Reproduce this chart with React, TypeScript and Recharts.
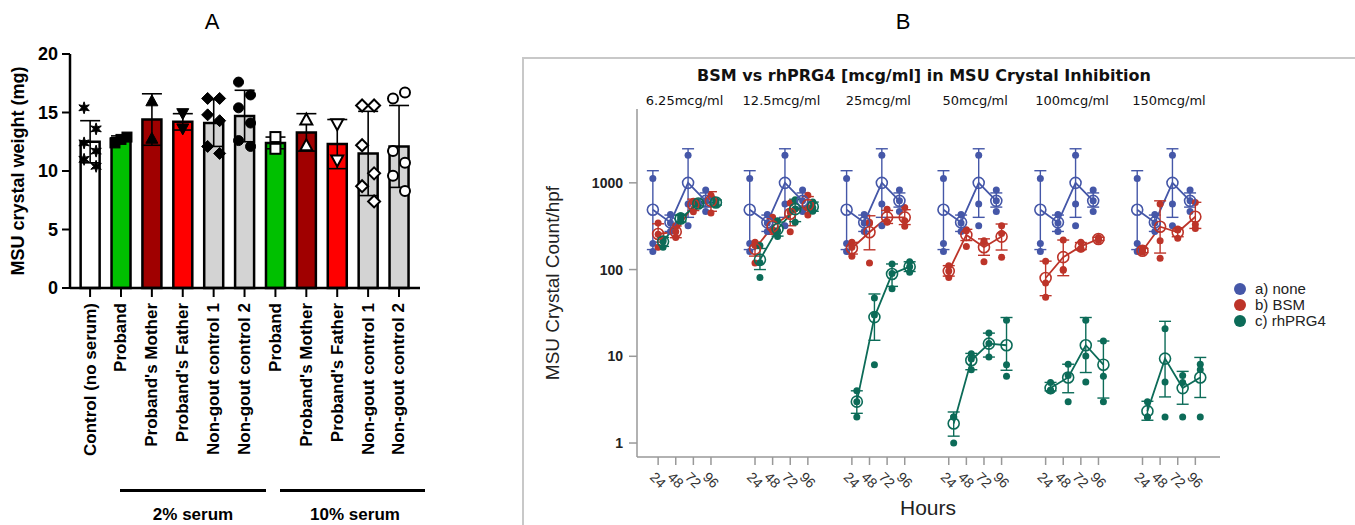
import React from "react";
import { ComposedChart, Bar, Cell, ErrorBar, Scatter, Line, XAxis, YAxis } from "recharts";

const FONT = "'Liberation Sans', Arial, sans-serif";
const VFONT = "'DejaVu Sans', Verdana, sans-serif";

// ---- Panel A: MSU crystal weight per serum donor ----
const groupLabels = [
  "Control (no serum)",
  "Proband",
  "Proband's Mother",
  "Proband's Father",
  "Non-gout control 1",
  "Non-gout control 2",
  "Proband",
  "Proband's Mother",
  "Proband's Father",
  "Non-gout control 1",
  "Non-gout control 2",
];
const weightMean = [12.5, 12.8, 14.4, 14.2, 14.1, 14.7, 12.4, 13.3, 12.3, 11.5, 12.1];
const weightSd = [1.8, 0.2, 2.2, 0.7, 2.0, 2.2, 0.5, 1.6, 2.1, 3.6, 3.5];
const weightPoints = [
  [15.4, 13.6, 12.4, 11.7, 11.0, 10.4],
  [12.4, 12.7, 12.9],
  [16.0, 12.8],
  [14.9, 13.6],
  [16.2, 16.2, 14.8, 14.3, 12.1, 11.5],
  [17.6, 16.5, 15.4, 14.1, 12.6, 12.1],
  [12.9, 11.9],
  [14.4, 12.2],
  [14.0, 10.9],
  [15.6, 15.6, 12.2, 9.8, 8.7, 7.4],
  [16.2, 16.7, 11.7, 10.7, 9.6, 8.3],
];
const weightTicks = [0, 5, 10, 15, 20];

const barFill = ["#ffffff", "#00c000", "#a00000", "#ff0000", "#d3d3d3", "#d3d3d3", "#00c000", "#a00000", "#ff0000", "#d3d3d3", "#d3d3d3"];
const markerKind = ["star", "square", "up", "down", "diamond", "circle", "square", "up", "down", "diamond", "circle"];
const markerOpen = [false, false, false, false, false, false, true, true, true, true, true];

// ---- Panel B: crystal counts over time, per inhibitor concentration ----
const hours = ["24", "48", "72", "96"];
const concentrations = ["6.25mcg/ml", "12.5mcg/ml", "25mcg/ml", "50mcg/ml", "100mcg/ml", "150mcg/ml"];
const treatments = ["a) none", "b) BSM", "c) rhPRG4"];

// untreated wells, repeated in every concentration panel
const noneMean = [490, 350, 1000, 620];
const noneErr = [[320, 890], [75, 75], [600, 1470], [95, 145]];
const nonePoints = [[1120, 200, 161], [430, 345, 275], [2080, 569, 321], [824, 620, 468]];

const bsmMean = [
  [257, 273, 559, 620],
  [173, 315, 440, 554],
  [176, 269, 400, 400],
  [96, 251, 181, 240],
  [80, 139, 185, 225],
  [165, 312, 269, 406],
];
const bsmErr = [
  [[50, 80], [40, 45], [80, 90], [150, 170]],
  [[30, 35], [60, 70], [120, 140], [110, 140]],
  [[25, 30], [100, 148], [60, 80], [70, 90]],
  [[12, 15], [35, 40], [35, 45], [72, 95]],
  [[30, 45], [54, 80], [15, 20], [8, 10]],
  [[8, 10], [157, 308], [30, 35], [108, 190]],
];
const bsmPoints = [
  [[344, 256, 181], [320, 273, 235], [615, 600, 464], [720, 690, 450]],
  [[206, 190, 119], [400, 290, 281], [584, 460, 273], [720, 520, 426]],
  [[206, 181, 142], [350, 340, 119], [497, 350, 355], [520, 365, 315]],
  [[111, 96, 81], [288, 280, 185], [215, 205, 123], [320, 260, 139]],
  [[125, 70, 48], [219, 100, 98], [206, 176, 173], [235, 225, 216]],
  [[175, 165, 158], [569, 215, 135], [293, 285, 230], [594, 330, 298]],
];

const prgMean = [
  [210, 388, 578, 594],
  [130, 293, 497, 530],
  [3.0, 28.3, 89, 108],
  [1.68, 9.0, 14.0, 13.4],
  [4.3, 5.7, 13.4, 8.0],
  [2.33, 9.4, 4.3, 5.7],
];
const prgErr = [
  [[25, 25], [35, 35], [30, 30], [40, 40]],
  [[30, 45], [50, 60], [140, 150], [60, 70]],
  [[0.8, 1.0], [13, 24], [25, 27], [13, 15]],
  [[0.48, 0.6], [2.0, 1.8], [4.2, 4.5], [6.5, 14.6]],
  [[0.3, 0.7], [1.9, 2.4], [6.9, 14.6], [4.7, 7.0]],
  [[0.5, 0.7], [6.0, 15.9], [1.5, 2.4], [2.35, 4.0]],
];
const prgPoints = [
  [[220, 210, 181], [417, 388, 365], [600, 578, 560], [620, 594, 565]],
  [[189, 120, 81], [365, 280, 241], [640, 500, 350], [600, 520, 470]],
  [[4.0, 3.0, 2.0], [47, 30, 8.0], [116, 90, 60], [123, 108, 93]],
  [[2.0, 2.0, 1.0], [10.7, 9.3, 7.0], [18.5, 14, 9.8], [26, 8.0, 5.9]],
  [[5.0, 4.1, 4.0], [8.1, 6.0, 3.0], [26, 10.1, 5.07], [15, 5.9, 3.0]],
  [[3.0, 2.0, 2.0], [20.8, 5.07, 2.0], [6.0, 5.0, 2.0], [8.1, 7.0, 2.0]],
];
const countTicks = [1, 10, 100, 1000];

const seriesColors = ["#4557a8", "#bd3429", "#0c6b58"];
const dodge = [-0.3, 0, 0.28];
const GROUP_STEP = 5.5;
const pos = (g: number, h: number) => g * GROUP_STEP + h;
const X_DOMAIN: [number, number] = [-1.2, 31.9];

const hourTicks = concentrations.flatMap((_, g) => hours.map((__, h) => pos(g, h)));

const seriesDefs = [
  { means: concentrations.map(() => noneMean), errs: concentrations.map(() => noneErr), points: concentrations.map(() => nonePoints) },
  { means: bsmMean, errs: bsmErr, points: bsmPoints },
  { means: prgMean, errs: prgErr, points: prgPoints },
];

// chart B geometry (page px)
const B_LEFT = 560;
const B_TOP = 100;
const B_W = 680;
const B_H = 420;
const B_MARGIN = { top: 9, right: 20, bottom: 23, left: 27 };
const B_YAXIS_W = 50;
const plotLeft = B_LEFT + B_MARGIN.left + B_YAXIS_W;
const plotWidth = B_W - B_MARGIN.left - B_MARGIN.right - B_YAXIS_W;
const xToPage = (v: number) => plotLeft + ((v - X_DOMAIN[0]) / (X_DOMAIN[1] - X_DOMAIN[0])) * plotWidth;

function Marker({ cx, cy, kind, open }: { cx: number; cy: number; kind: string; open: boolean }) {
  const s = 5;
  const paint = { fill: open ? "#fff" : "#000", stroke: "#000", strokeWidth: open ? 2 : 1 };
  if (kind === "square") return <rect x={cx - s} y={cy - s} width={2 * s} height={2 * s} {...paint} />;
  if (kind === "up") return <polygon points={`${cx},${cy - s - 1} ${cx + s + 1},${cy + s} ${cx - s - 1},${cy + s}`} {...paint} />;
  if (kind === "down") return <polygon points={`${cx},${cy + s + 1} ${cx + s + 1},${cy - s} ${cx - s - 1},${cy - s}`} {...paint} />;
  if (kind === "diamond") return <polygon points={`${cx},${cy - s - 1} ${cx + s + 1},${cy} ${cx},${cy + s + 1} ${cx - s - 1},${cy}`} {...paint} />;
  if (kind === "circle") return <circle cx={cx} cy={cy} r={s} {...paint} />;
  const pts = [];
  for (let k = 0; k < 12; k++) {
    const r = k % 2 === 0 ? s + 1 : s / 2;
    const a = (Math.PI / 6) * k - Math.PI / 2;
    pts.push(`${cx + r * Math.cos(a)},${cy + r * Math.sin(a)}`);
  }
  return <polygon points={pts.join(" ")} {...paint} />;
}

function jitter(j: number, n: number) {
  if (n === 3) return (j - 1) * 6;
  if (n >= 6) return j % 2 === 0 ? -6 : 6;
  return 0;
}

function GroupTick({ x, y, payload }: any) {
  return (
    <text
      transform={`translate(${x},${y + 4}) rotate(-90)`}
      textAnchor="end"
      dominantBaseline="central"
      fontFamily={FONT}
      fontWeight="bold"
      fontSize={17}
      fill="#000"
    >
      {groupLabels[payload.value]}
    </text>
  );
}

function HourTick({ x, y, payload }: any) {
  const i = hourTicks.indexOf(payload.value);
  return (
    <text transform={`translate(${x},${y + 13}) rotate(45)`} textAnchor="middle" dominantBaseline="central" fontFamily={FONT} fontSize={14} fill="#333">
      {hours[i % 4]}
    </text>
  );
}

const abs = (left: number, top: number, extra: React.CSSProperties = {}): React.CSSProperties => ({
  position: "absolute",
  left,
  top,
  transform: "translate(-50%,-50%)",
  whiteSpace: "nowrap",
  fontFamily: FONT,
  ...extra,
});

export default function App() {
  const barRows = groupLabels.map((_, i) => ({ x: i, mean: weightMean[i], sd: weightSd[i] }));

  return (
    <div style={{ position: "absolute", left: 0, top: 0, width: 1355, height: 525, background: "#fff", overflow: "hidden" }}>
      {/* Panel A */}
      <div style={abs(212, 22, { fontSize: 22 })}>A</div>
      <div style={abs(18, 171, { fontSize: 18, fontWeight: "bold", transform: "translate(-50%,-50%) rotate(-90deg)" })}>
        MSU crystal weight (mg)
      </div>
      <div style={{ position: "absolute", left: 0, top: 40 }}>
        <ComposedChart width={440} height={440} data={barRows} margin={{ top: 14, right: 20, bottom: 12, left: 25 }}>
          <XAxis
            dataKey="x"
            type="number"
            domain={[-0.65, 10.68]}
            ticks={groupLabels.map((_, i) => i)}
            interval={0}
            tick={<GroupTick />}
            height={180}
            tickSize={9}
            axisLine={{ stroke: "#000", strokeWidth: 2.5 }}
            tickLine={{ stroke: "#000", strokeWidth: 2 }}
          />
          <YAxis
            type="number"
            domain={[0, 20]}
            ticks={weightTicks}
            width={45}
            tickSize={8}
            tickMargin={4}
            axisLine={{ stroke: "#000", strokeWidth: 2.5 }}
            tickLine={{ stroke: "#000", strokeWidth: 2 }}
            tick={{ fontFamily: FONT, fontWeight: "bold", fontSize: 18, fill: "#000" }}
          />
          <Bar dataKey="mean" barSize={19} stroke="#000" strokeWidth={2.5} isAnimationActive={false}>
            {barFill.map((c, i) => (
              <Cell key={i} fill={c} />
            ))}
            <ErrorBar dataKey="sd" width={10} stroke="#000" strokeWidth={1.6} direction="y" />
          </Bar>
          {weightPoints.map((pts, i) => (
            <Scatter
              key={i}
              data={pts.map((v, j) => ({ x: i, y: v, j }))}
              dataKey="y"
              isAnimationActive={false}
              shape={(p: any) => (
                <Marker cx={p.cx + jitter(p.payload.j, pts.length)} cy={p.cy} kind={markerKind[i]} open={markerOpen[i]} />
              )}
            />
          ))}
        </ComposedChart>
      </div>
      <div style={{ position: "absolute", left: 120, top: 489, width: 146, height: 3, background: "#000" }} />
      <div style={{ position: "absolute", left: 280, top: 489, width: 145, height: 3, background: "#000" }} />
      <div style={abs(193, 515, { fontSize: 17, fontWeight: "bold" })}>2% serum</div>
      <div style={abs(355, 515, { fontSize: 17, fontWeight: "bold" })}>10% serum</div>

      {/* Panel B */}
      <div style={abs(903, 22, { fontSize: 22 })}>B</div>
      <div style={{ position: "absolute", left: 522, top: 57, width: 840, height: 480, border: "2px solid #c8c8c8", boxSizing: "border-box" }} />
      <div style={abs(924, 75, { fontFamily: VFONT, fontSize: 16, fontWeight: "bold", color: "#111" })}>
        BSM vs rhPRG4 [mcg/ml] in MSU Crystal Inhibition
      </div>
      {concentrations.map((c, g) => (
        <div key={c} style={abs(xToPage(pos(g, 1.5)), 100, { fontFamily: VFONT, fontSize: 13, color: "#111" })}>
          {c}
        </div>
      ))}
      <div style={abs(553, 283, { fontSize: 19, color: "#222", transform: "translate(-50%,-50%) rotate(-90deg)" })}>MSU Crystal Count/hpf</div>
      <div style={abs(928, 508, { fontSize: 21, color: "#222" })}>Hours</div>
      <div style={{ position: "absolute", left: B_LEFT, top: B_TOP }}>
        <ComposedChart width={B_W} height={B_H} margin={B_MARGIN}>
          <XAxis
            dataKey="x"
            type="number"
            domain={X_DOMAIN}
            ticks={hourTicks}
            interval={0}
            height={40}
            tickSize={8}
            axisLine={{ stroke: "#999", strokeWidth: 1.5 }}
            tickLine={{ stroke: "#999", strokeWidth: 1.5 }}
            tick={<HourTick />}
          />
          <YAxis
            type="number"
            scale="log"
            domain={[0.69, 7100]}
            allowDataOverflow
            ticks={countTicks}
            width={B_YAXIS_W}
            tickSize={8}
            tickMargin={6}
            axisLine={{ stroke: "#999", strokeWidth: 1.5 }}
            tickLine={{ stroke: "#999", strokeWidth: 1.5 }}
            tick={{ fontFamily: FONT, fontWeight: "bold", fontSize: 14, fill: "#222" }}
          />
          {seriesDefs.map((s, t) => {
            const color = seriesColors[t];
            const dots = s.points.flatMap((perHour, g) =>
              perHour.flatMap((vals, h) => vals.map((v) => ({ x: pos(g, h) + dodge[t], y: v })))
            );
            return [
              <Scatter
                key={`pts-${t}`}
                data={dots}
                dataKey="y"
                fill={color}
                isAnimationActive={false}
                shape={(p: any) => <circle cx={p.cx} cy={p.cy} r={3.5} fill={color} />}
              />,
              ...s.means.map((m, g) => (
                <Line
                  key={`line-${t}-${g}`}
                  data={m.map((y, h) => ({ x: pos(g, h) + dodge[t], y, err: s.errs[g][h] }))}
                  dataKey="y"
                  stroke={color}
                  strokeWidth={1.8}
                  dot={{ r: 5.5, fill: "none", stroke: color, strokeWidth: 1.6 }}
                  activeDot={false}
                  isAnimationActive={false}
                >
                  <ErrorBar dataKey="err" width={6} stroke={color} strokeWidth={1.4} direction="y" />
                </Line>
              )),
            ];
          })}
        </ComposedChart>
      </div>
      {treatments.map((name, t) => (
        <div key={name} style={{ position: "absolute", left: 1234, top: 280 + t * 16, display: "flex", alignItems: "center", fontFamily: FONT, fontSize: 15, color: "#222" }}>
          <span style={{ width: 12, height: 12, borderRadius: "50%", background: seriesColors[t], display: "inline-block", marginRight: 9 }} />
          {name}
        </div>
      ))}
    </div>
  );
}
